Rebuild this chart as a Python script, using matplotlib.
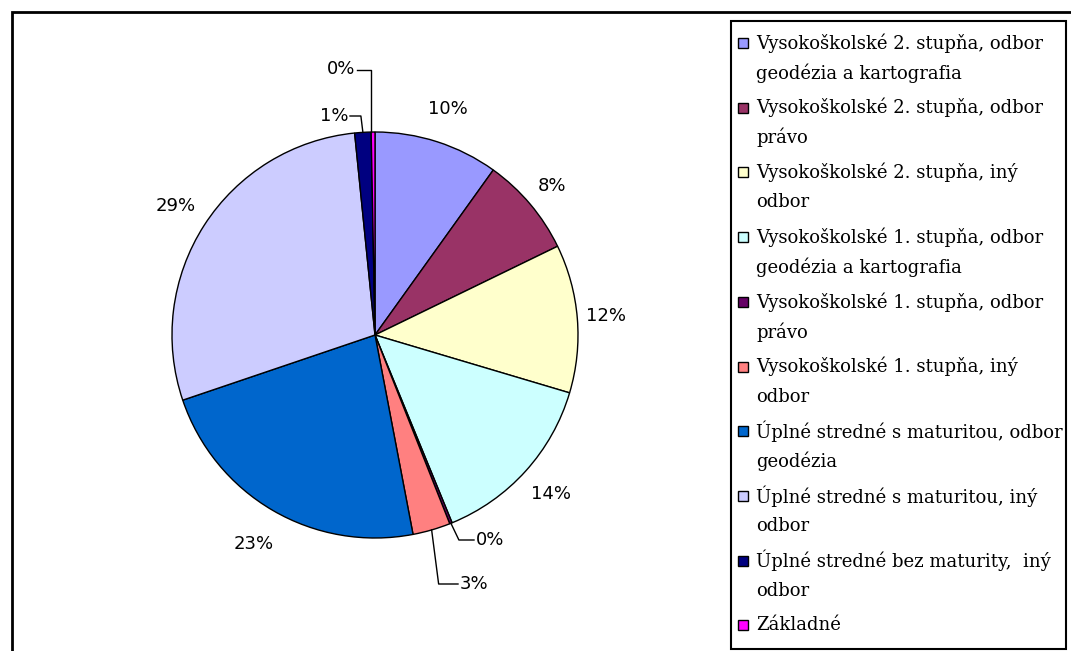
import matplotlib
matplotlib.use("Agg")
import matplotlib.pyplot as plt
from matplotlib.patches import Rectangle
import numpy as np

# ---- data ----
categories = [
    "Vysokoškolské 2. stupňa, odbor\ngeodézia a kartografia",
    "Vysokoškolské 2. stupňa, odbor\nprávo",
    "Vysokoškolské 2. stupňa, iný\nodbor",
    "Vysokoškolské 1. stupňa, odbor\ngeodézia a kartografia",
    "Vysokoškolské 1. stupňa, odbor\nprávo",
    "Vysokoškolské 1. stupňa, iný\nodbor",
    "Úplné stredné s maturitou, odbor\ngeodézia",
    "Úplné stredné s maturitou, iný\nodbor",
    "Úplné stredné bez maturity,  iný\nodbor",
    "Základné",
]
values = [9.9, 7.9, 11.8, 14.2, 0.2, 3.0, 22.8, 28.6, 1.3, 0.3]
colors = ["#9999FF", "#993366", "#FFFFCC", "#CCFFFF", "#660066",
          "#FF8080", "#0066CC", "#CCCCFF", "#000080", "#FF00FF"]

# ---- layout ----
W, H = 1071, 651
fig = plt.figure(figsize=(W / 100, H / 100), dpi=100)
ax = fig.add_axes([0, 0, 1, 1])

def Y(py):
    return H - py

CX, CY, R = 375, Y(335), 203

wedges, _ = ax.pie(values, colors=colors, startangle=90, counterclock=False,
                   center=(CX, CY), radius=R, frame=True,
                   wedgeprops=dict(edgecolor="black", linewidth=1.0))
ax.set_xlim(0, W)
ax.set_ylim(0, H)
ax.set_aspect("equal")
ax.axis("off")

total = sum(values)
labels = ["%d%%" % round(v / total * 100) for v in values]

# angle of each wedge middle (degrees clockwise from top)
cum = np.cumsum([0] + values[:-1])
mid = [(c + v / 2) / total * 360 for c, v in zip(cum, values)]

lab_font = dict(family="DejaVu Sans", fontsize=13, color="black")

# big slices: text at a radial distance
big = {0: 1.17, 1: 1.14, 2: 1.14, 3: 1.17, 6: 1.19, 7: 1.17}
for i, f in big.items():
    a = np.radians(mid[i])
    x = CX + f * R * np.sin(a)
    y = CY + f * R * np.cos(a)
    ax.text(x, y, labels[i], ha="center", va="center", **lab_font)

def edge(i):
    a = np.radians(mid[i])
    return CX + R * np.sin(a), CY + R * np.cos(a)

# small slices with leader lines
# Základné (top)
ex, ey = edge(9)
ax.plot([ex - 2, ex - 2, 357], [ey, Y(70), Y(70)], color="black", lw=1)
ax.text(355, Y(69), labels[9], ha="right", va="center", **lab_font)
# 1%
ex, ey = edge(8)
ax.plot([ex, ex - 2, 350], [ey, Y(116), Y(116)], color="black", lw=1)
ax.text(348, Y(116), labels[8], ha="right", va="center", **lab_font)
# 0% (VŠ 1. stupňa právo)
ex, ey = edge(4)
ax.plot([ex, ex + 8, 474], [ey, Y(540), Y(540)], color="black", lw=1)
ax.text(476, Y(540), labels[4], ha="left", va="center", **lab_font)
# 3%
ex, ey = edge(5)
ax.plot([ex, ex + 7, 458], [ey, Y(584), Y(584)], color="black", lw=1)
ax.text(460, Y(584), labels[5], ha="left", va="center", **lab_font)

# outer chart frame
ax.add_patch(Rectangle((12, Y(12) - 800), 1200, 800, fill=False,
                       edgecolor="black", lw=2, clip_on=True))

# legend box
ax.add_patch(Rectangle((731, Y(649)), 1066 - 731, 649 - 21, fill=False,
                       edgecolor="black", lw=1.5))
leg_font = dict(family="DejaVu Serif", fontsize=13, color="black")
for i, (lab, col) in enumerate(zip(categories, colors)):
    y0 = 43 + i * 64.7
    ax.add_patch(Rectangle((738, Y(y0) - 5), 10, 10, facecolor=col,
                           edgecolor="black", lw=1))
    for j, line in enumerate(lab.split("\n")):
        ax.text(756, Y(y0 + j * 30), line, ha="left", va="center", **leg_font)

fig.savefig("out.png", dpi=100)
